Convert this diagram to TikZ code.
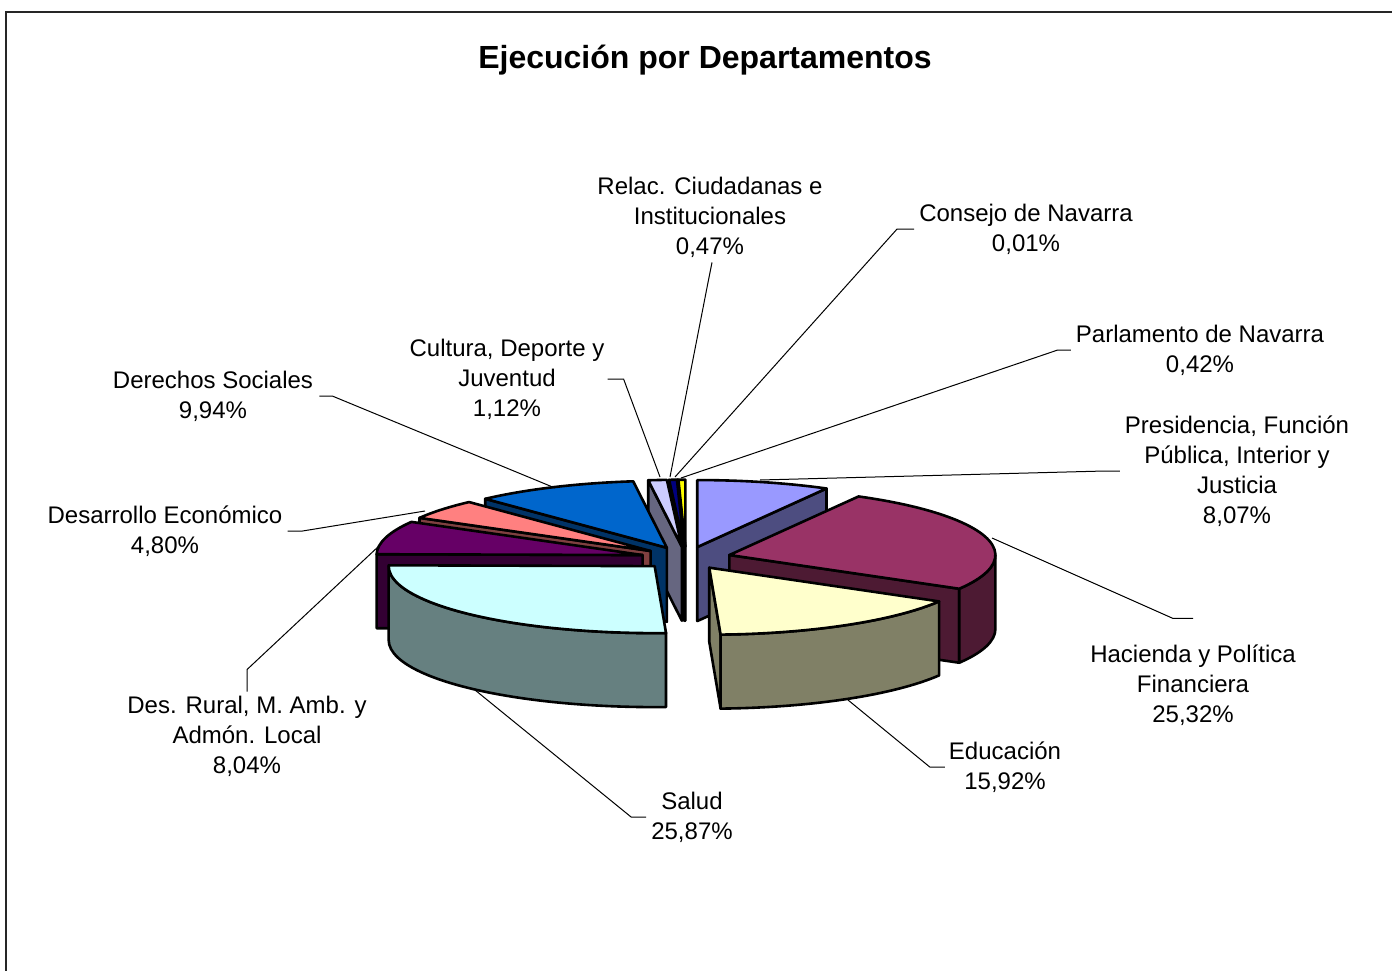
\documentclass[tikz,border=0pt]{standalone}
\usepackage{fontspec}
\setmainfont{Liberation Sans}
\definecolor{presTop}{HTML}{9999FF}\definecolor{presSide}{HTML}{4D4D80}
\definecolor{hacTop}{HTML}{993366}\definecolor{hacSide}{HTML}{4D1A33}
\definecolor{eduTop}{HTML}{FFFFCC}\definecolor{eduSide}{HTML}{808066}
\definecolor{salTop}{HTML}{CCFFFF}\definecolor{salSide}{HTML}{668080}
\definecolor{druTop}{HTML}{660066}\definecolor{druSide}{HTML}{330033}
\definecolor{decTop}{HTML}{FF8080}\definecolor{decSide}{HTML}{804040}
\definecolor{dsoTop}{HTML}{0066CC}\definecolor{dsoSide}{HTML}{003366}
\definecolor{culTop}{HTML}{CCCCFF}\definecolor{culSide}{HTML}{666680}
\definecolor{relTop}{HTML}{000080}\definecolor{relSide}{HTML}{000040}
\definecolor{conTop}{HTML}{FF00FF}\definecolor{conSide}{HTML}{800080}
\definecolor{parTop}{HTML}{FFFF00}\definecolor{parSide}{HTML}{808000}
\tikzset{
  face/.style={draw=black, line width=2.6pt, line join=round},
  leader/.style={draw=black, line width=1pt},
  lbl/.style={align=center, inner sep=0pt, font=\fontsize{24}{30}\selectfont}
}
\begin{document}
\begin{tikzpicture}[x=1pt, y=-1pt]
\useasboundingbox (0,0) rectangle (1392,971);
\fill[white] (0,0) rectangle (1392,971);
\draw[line width=2pt, black!85] (6,971) -- (6,12) -- (1392,12);
\node[font=\bfseries\fontsize{32}{38}\selectfont] (title) at (705,60) {Ejecución por Departamentos};

% slices, back to front
\foreach \nm/\ta/\tb/\ct/\cs in {
  par/358.49/360/parTop/parSide, con/358.45/358.49/conTop/conSide,
  rel/356.76/358.45/relTop/relSide, cul/352.73/356.76/culTop/culSide,
  pres/0/29.06/presTop/presSide, dso/316.94/352.73/dsoTop/dsoSide,
  dec/299.65/316.94/decTop/decSide, hac/29.06/120.23/hacTop/hacSide,
  dru/270.70/299.65/druTop/druSide, sal/177.55/270.70/salTop/salSide,
  edu/120.23/177.55/eduTop/eduSide}
{
  \pgfmathsetmacro\tm{(\ta+\tb)/2}
  \pgfmathsetmacro\cx{686+45*sin(\tm)}
  \pgfmathsetmacro\cy{558-11.3*cos(\tm)}
  \pgfmathsetmacro\pa{\ta-90}
  \pgfmathsetmacro\pb{\tb-90}
  \coordinate (\nm) at (\cx,\cy);
  \coordinate (\nm-o) at (\cx,\cy+74);
  \coordinate (\nm-a) at ({\cx+266*sin(\ta)},{\cy-67*cos(\ta)});
  \coordinate (\nm-b) at ({\cx+266*sin(\tb)},{\cy-67*cos(\tb)});
  \pgfmathtruncatemacro\vl{and(\ta>180,\ta<360)}
  \pgfmathtruncatemacro\vr{and(\tb>0,\tb<180)}
  \pgfmathsetmacro\os{max(\ta,90)}
  \pgfmathsetmacro\oe{min(\tb,270)}
  \pgfmathtruncatemacro\vo{\oe>\os}
  \ifnum\vl=1
    \filldraw[face, fill=\cs] (\nm) -- (\nm-a) -- ++(0,74) -- (\nm-o) -- cycle;
  \fi
  \ifnum\vr=1
    \filldraw[face, fill=\cs] (\nm) -- (\nm-b) -- ++(0,74) -- (\nm-o) -- cycle;
  \fi
  \ifnum\vo=1
    \pgfmathsetmacro\qs{\os-90}
    \pgfmathsetmacro\qe{\oe-90}
    \filldraw[face, fill=\cs] ({\cx+266*sin(\os)},{\cy-67*cos(\os)})
      arc[start angle=\qs, end angle=\qe, x radius=266, y radius=67] -- ++(0,74)
      arc[start angle=\qe, end angle=\qs, x radius=266, y radius=67] -- cycle;
  \fi
  \filldraw[face, fill=\ct] (\nm) -- (\nm-a)
    arc[start angle=\pa, end angle=\pb, x radius=266, y radius=67] -- cycle;
}

% labels
\node[lbl] (rell) at (710,217) {Relac. Ciudadanas e\\Institucionales\\0,47\%};
\node[lbl] (conl) at (1026,229) {Consejo de Navarra\\0,01\%};
\node[lbl] (parl) at (1200,350) {Parlamento de Navarra\\0,42\%};
\node[lbl] (presl) at (1237,471) {Presidencia, Función\\Pública, Interior y\\Justicia\\8,07\%};
\node[lbl] (hacl) at (1193,685) {Hacienda y Política\\Financiera\\25,32\%};
\node[lbl] (edul) at (1005,767) {Educación\\15,92\%};
\node[lbl] (sall) at (692,817) {Salud\\25,87\%};
\node[lbl] (drul) at (247,736) {Des. Rural, M. Amb. y\\Admón. Local\\8,04\%};
\node[lbl] (decl) at (165,531) {Desarrollo Económico\\4,80\%};
\node[lbl] (dsol) at (213,396) {Derechos Sociales\\9,94\%};
\node[lbl] (cull) at (507,379) {Cultura, Deporte y\\Juventud\\1,12\%};

\coordinate (dso-end) at (555,488);
\coordinate (cul-end) at (660,477);
\coordinate (rel-end) at (670,477);
\coordinate (con-end) at (675,477);
\coordinate (par-end) at (681,478);
\coordinate (pres-end) at (760,480);
\coordinate (hac-end) at (992,538);
\coordinate (edu-end) at (848,700);
\coordinate (sal-end) at (475,690);
\coordinate (dru-end) at (380,545);
\coordinate (dec-end) at (425,511);

\draw[leader] ([xshift=6pt]dsol.east) -- ++(13,0) -- (dso-end);
\draw[leader] ([xshift=3pt]cull.east) -- ++(16,0) -- (cul-end);
\draw[leader] ([xshift=2pt,yshift=-5pt]rell.south) -- ++(-4,20) -- (rel-end);
\draw[leader] ([xshift=-5pt]conl.west) -- ++(-17,0) -- (con-end);
\draw[leader] ([xshift=-5pt]parl.west) -- ++(-13,0) -- (par-end);
\draw[leader] ([xshift=-5pt]presl.west) -- ++(-15,0) -- (pres-end);
\draw[leader] ([yshift=26pt]hacl.north) -- ++(-20,0) -- (hac-end);
\draw[leader] ([xshift=-4pt]edul.west) -- ++(-15,0) -- (edu-end);
\draw[leader] ([xshift=-5pt]sall.west) -- ++(-15,0) -- (sal-end);
\draw[leader] ([yshift=4pt]drul.north) -- ++(0,-22) -- (dru-end);
\draw[leader] ([xshift=5pt]decl.east) -- ++(15,0) -- (dec-end);
\end{tikzpicture}
\end{document}
